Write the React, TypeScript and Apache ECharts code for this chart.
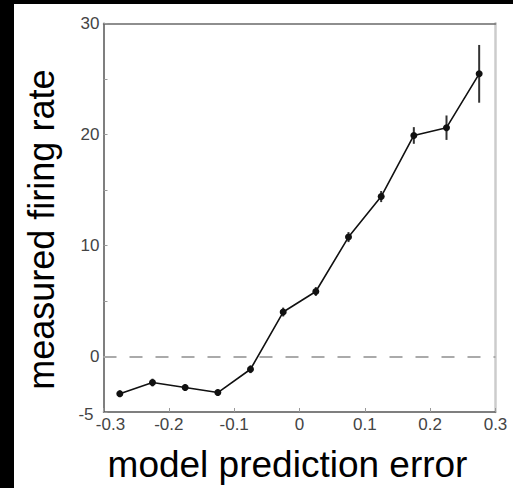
import React, { useEffect, useRef } from "react";
import * as echarts from "echarts";

const xValues = [-0.275, -0.225, -0.175, -0.125, -0.075, -0.025, 0.025, 0.075, 0.125, 0.175, 0.225, 0.275];
const yValues = [-3.35, -2.35, -2.8, -3.25, -1.15, 4.0, 5.85, 10.75, 14.4, 19.9, 20.6, 25.45];
const yErrors = [0.3, 0.35, 0.3, 0.3, 0.35, 0.4, 0.4, 0.45, 0.5, 0.75, 1.1, 2.6];
const xTicks = [-0.3, -0.2, -0.1, 0, 0.1, 0.2, 0.3];
const yTickLabels = [-5, 0, 10, 20, 30];

export default function App() {
  const ref = useRef<HTMLDivElement>(null);
  useEffect(() => {
    if (!ref.current) return;
    const chart = echarts.init(ref.current, undefined, { renderer: "svg" });
    const points = xValues.map((x, i) => [x, yValues[i]]);
    const bars = xValues.map((x, i) => [x, yValues[i] - yErrors[i], yValues[i] + yErrors[i]]);
    const font = "'Liberation Sans', Arial, Helvetica, sans-serif";
    chart.setOption({
      animation: false,
      backgroundColor: "#ffffff",
      grid: { left: 89.5, right: 17.5, top: 19.3, bottom: 74.7 },
      xAxis: [
        {
          type: "value",
          min: -0.3,
          max: 0.3,
          interval: 0.1,
          position: "bottom",
          name: "model prediction error",
          nameLocation: "middle",
          nameGap: 34,
          nameTextStyle: { fontFamily: font, fontSize: 37, color: "#000", padding: [0, 24, 0, 0] },
          axisLine: { show: true, onZero: false, lineStyle: { color: "#555", width: 1.5 } },
          axisTick: { show: true, inside: true, length: 4, lineStyle: { color: "#999" } },
          splitLine: { show: false },
          axisLabel: {
            margin: 4,
            color: "#444",
            fontFamily: font,
            fontSize: 17,
            formatter: (v: number) => {
              const r = Math.round(v * 10) / 10;
              if (r === -0.3) return "{s|-0.3}";
              return r === 0 ? "0" : String(r);
            },
            rich: { s: { color: "#444", fontFamily: font, fontSize: 17, padding: [0, 0, 0, 14] } },
          },
        },
        {
          type: "value",
          min: -0.3,
          max: 0.3,
          position: "top",
          axisLine: { show: true, onZero: false, lineStyle: { color: "#6a6a6a", width: 1.5 } },
          axisTick: { show: false },
          axisLabel: { show: false },
          splitLine: { show: false },
        },
      ],
      yAxis: [
        {
          type: "value",
          min: -5,
          max: 30,
          interval: 5,
          position: "left",
          name: "measured firing rate",
          nameLocation: "middle",
          nameGap: 44,
          nameTextStyle: { fontFamily: font, fontSize: 36, color: "#000", padding: [0, 24, 0, 0] },
          axisLine: { show: true, onZero: false, lineStyle: { color: "#555", width: 1.5 } },
          axisTick: { show: true, inside: true, length: 4, lineStyle: { color: "#999" } },
          splitLine: { show: false },
          axisLabel: {
            margin: 4,
            color: "#444",
            fontFamily: font,
            fontSize: 17,
            formatter: (v: number) => {
              if (!yTickLabels.includes(v)) return "";
              return v === -5 ? "{s|-5}" : String(v);
            },
            rich: { s: { color: "#444", fontFamily: font, fontSize: 17, padding: [4, 6, 0, 0] } },
          },
        },
        {
          type: "value",
          min: -5,
          max: 30,
          position: "right",
          axisLine: { show: true, onZero: false, lineStyle: { color: "#cccccc", width: 2.5 } },
          axisTick: { show: false },
          axisLabel: { show: false },
          splitLine: { show: false },
        },
      ],
      series: [
        {
          type: "custom",
          xAxisIndex: 0,
          yAxisIndex: 0,
          data: bars,
          z: 3,
          renderItem: (params: any, api: any) => {
            const x = api.value(0);
            const lo = api.coord([x, api.value(1)]);
            const hi = api.coord([x, api.value(2)]);
            return {
              type: "line",
              shape: { x1: lo[0], y1: lo[1], x2: hi[0], y2: hi[1] },
              style: { stroke: "#333", lineWidth: 2 },
            };
          },
        },
        {
          type: "line",
          xAxisIndex: 0,
          yAxisIndex: 0,
          data: points,
          z: 4,
          symbol: "circle",
          symbolSize: 7,
          itemStyle: { color: "#111" },
          lineStyle: { color: "#111", width: 1.6 },
          markLine: {
            silent: true,
            symbol: "none",
            label: { show: false },
            lineStyle: { color: "#aaaaaa", width: 2, type: [13, 13] },
            data: [{ yAxis: 0 }],
          },
        },
      ],
    });
    return () => chart.dispose();
  }, []);
  return (
    <div style={{ position: "fixed", left: 0, top: 0, width: 513, height: 488, background: "#000" }}>
      <div ref={ref} style={{ position: "absolute", left: 14, top: 4, width: 499, height: 484 }} />
    </div>
  );
}
